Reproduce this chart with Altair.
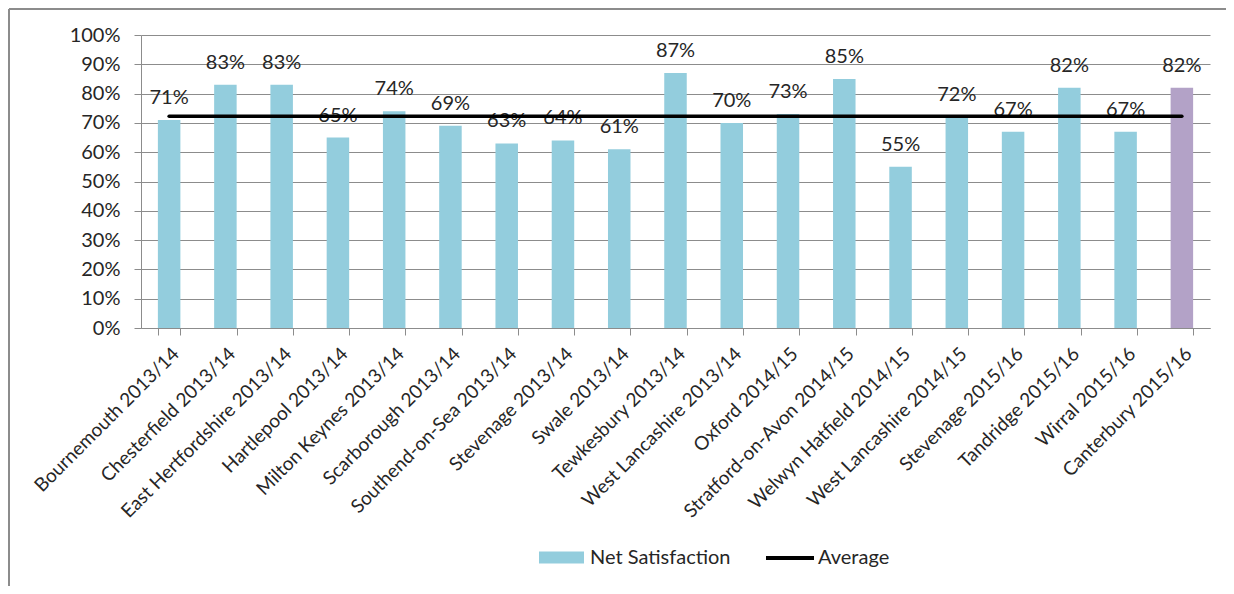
import altair as alt
import pandas as pd

names = [
    "Bournemouth 2013/14", "Chesterfield 2013/14", "East Hertfordshire 2013/14",
    "Hartlepool 2013/14", "Milton Keynes 2013/14", "Scarborough 2013/14",
    "Southend-on-Sea 2013/14", "Stevenage 2013/14", "Swale 2013/14",
    "Tewkesbury 2013/14", "West Lancashire 2013/14", "Oxford 2014/15",
    "Stratford-on-Avon 2014/15", "Welwyn Hatfield 2014/15", "West Lancashire 2014/15",
    "Stevenage 2015/16", "Tandridge 2015/16", "Wirral 2015/16", "Canterbury 2015/16",
]
values = [71, 83, 83, 65, 74, 69, 63, 64, 61, 87, 70, 73, 85, 55, 72, 67, 82, 67, 82]
highlight = "Canterbury 2015/16"
y_ticks = [0, 0.1, 0.2, 0.3, 0.4, 0.5, 0.6, 0.7, 0.8, 0.9, 1.0]

df = pd.DataFrame({
    "name": names,
    "value": [v / 100 for v in values],
    "series": "Net Satisfaction",
    "line": "Average",
})

FONT = "Lato"
TXT = "#262626"
GRID = "#8c8c8c"

x_axis = alt.Axis(
    labelAngle=-45, tickBand="extent", ticks=True, tickSize=7,
    tickColor=GRID, domainColor=GRID, labelFont=FONT, labelFontSize=19,
    labelColor=TXT, labelPadding=9, grid=False, labelLimit=400,
)
y_axis = alt.Axis(
    format=".0%", values=y_ticks, grid=True, gridColor=GRID, tickSize=7,
    tickColor=GRID, domainColor=GRID, labelFont=FONT, labelFontSize=20,
    labelColor=TXT, labelPadding=14, labelOverlap=False,
)
x_scale = alt.Scale(paddingInner=0.6, paddingOuter=0.3)
y_scale = alt.Scale(domain=[0, 1])

x = alt.X("name:N", sort=names, title=None, scale=x_scale, axis=x_axis)
y = alt.Y("value:Q", title=None, scale=y_scale, axis=y_axis)

bars = alt.Chart(df).mark_bar().encode(
    x=x, y=y,
    color=alt.condition(
        alt.datum.name == highlight,
        alt.value("#B3A2C7"),
        alt.Color(
            "series:N",
            scale=alt.Scale(domain=["Net Satisfaction"], range=["#93CDDD"]),
            legend=alt.Legend(
                title=None, orient="none", legendX=398, legendY=500,
                symbolType="M-1,-0.27L1,-0.27L1,0.27L-1,0.27Z", symbolSize=2025,
                symbolStrokeWidth=0, symbolOpacity=1, labelFont=FONT, labelFontSize=20,
                labelColor=TXT, labelOffset=6,
            ),
        ),
    ),
)

labels = alt.Chart(df).mark_text(
    dy=-16, baseline="alphabetic", fontSize=20, font=FONT, color=TXT
).encode(x=x, y=y, text=alt.Text("value:Q", format=".0%"))

line = alt.Chart(df).transform_joinaggregate(avg="mean(value)").mark_line(
    strokeWidth=3.5, strokeCap="round"
).encode(
    x=x,
    y=alt.Y("avg:Q", title=None, scale=y_scale, axis=y_axis),
    stroke=alt.Stroke(
        "line:N",
        scale=alt.Scale(domain=["Average"], range=["black"]),
        legend=alt.Legend(
            title=None, orient="none", legendX=623, legendY=497,
            symbolType="M-1,0L1,0", symbolSize=2304, symbolStrokeWidth=4,
            labelFont=FONT, labelFontSize=20, labelColor=TXT, labelOffset=2,
        ),
    ),
)

frame_df = pd.DataFrame({"k": [0]})
frame_top = alt.Chart(frame_df).mark_rule(color="#8c8c8c", strokeWidth=2).encode(
    x=alt.value(-132), x2=alt.value(1090), y=alt.value(-26)
)
frame_left = alt.Chart(frame_df).mark_rule(color="#8c8c8c", strokeWidth=2).encode(
    x=alt.value(-132), y=alt.value(-26), y2=alt.value(560)
)

chart = alt.layer(bars, labels, line, frame_top, frame_left).resolve_scale(
    color="independent"
).properties(
    width=1069, height=293,
    autosize=alt.AutoSizeParams(type="none"),
    padding={"left": 133, "top": 27, "right": 16, "bottom": 258},
).configure_view(stroke=None)

chart.save("out.html", embed_options={"renderer": "svg", "actions": False})
